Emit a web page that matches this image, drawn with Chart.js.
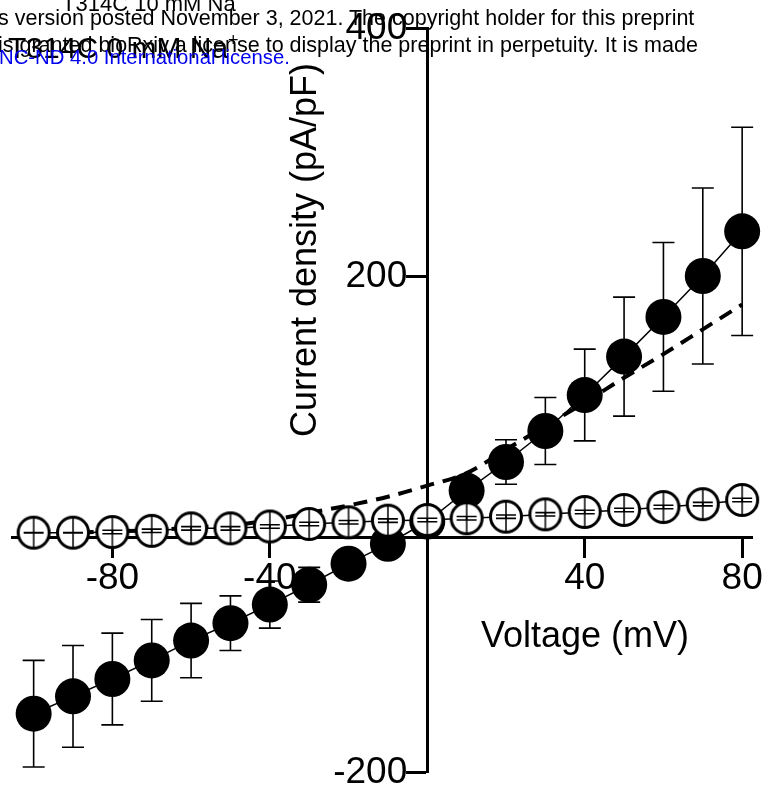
<!DOCTYPE html>
<html>
<head>
<meta charset="utf-8">
<script src="https://cdn.jsdelivr.net/npm/chart.js@4.4.0/dist/chart.umd.min.js"></script>
<style>
  html, body { margin: 0; padding: 0; background: #fff; }
  #wrap { position: relative; width: 779px; height: 798px; overflow: hidden; font-family: Arial, "Liberation Sans", sans-serif; }
  #ivChart { position: absolute; left: 0; top: 0; }
  .hdr { position: absolute; white-space: nowrap; line-height: 1; color: #000; }
</style>
</head>
<body>
<div id="wrap">
  <canvas id="ivChart" width="779" height="798"></canvas>
  <div class="hdr" style="left:62px; top:-7px; font-size:22px;">T314C 10 mM Na</div>
  <div class="hdr" style="left:-2px; top:8px; font-size:21.5px;">s version posted November 3, 2021. The copyright holder for this preprint</div>
  <div class="hdr" style="left:8px; top:31px; font-size:30px;">T314C 0 mM Na<sup style="font-size:18px; vertical-align:12px">+</sup></div>
  <div class="hdr" style="left:-2px; top:35px; font-size:21.5px;">is granted bioRxiv a license to display the preprint in perpetuity. It is made</div>
  <div class="hdr" style="left:-1px; top:47px; font-size:20.3px; color:#0000ee;">NC-ND 4.0 International license.</div>
</div>
<script>
// membrane voltage steps (mV)
const voltages = [-100, -90, -80, -70, -60, -50, -40, -30, -20, -10, 0, 10, 20, 30, 40, 50, 60, 70, 80];

// T314C, 10 mM Na+ (filled circles), mean and SEM (pA/pF)
const filledMean = [-153, -139, -125, -110, -94, -80, -65, -49, -32, -16, 2, 27, 50, 75, 104, 135, 167, 200, 236];
const filledErr = [43, 41, 37, 33, 30, 22, 19, 14, 10, 8, 5, 10, 18, 27, 37, 48, 60, 71, 84];

// T314C, 0 mM Na+ (open circles)
const openMean = [-7, -7, -6.5, -5.5, -3.5, -3.5, -2, 0, 1.4, 2.7, 3.2, 4.6, 5.9, 7.8, 9.7, 11.3, 13.7, 16, 19.4];
const openErr = [0.2, 0.2, 1.4, 1.4, 1.4, 1.4, 1.4, 1.4, 1.4, 1.4, 1.4, 1.4, 1.4, 1.4, 1.4, 1.4, 1.4, 1.4, 1.4];

// dashed curve
const dashedCurve = [-8, -7, -6, -5, -3, -1, 3, 9, 15, 22, 31, 41, 60, 79, 98, 118, 137, 157, 177];

// axis ticks
const xTickValues = [-80, -40, 40, 80];
const yTickValues = [-200, 200, 400];

const FONT = "Arial, 'Liberation Sans', sans-serif";

// open circle symbol with a vertical bar through it
function makeOpenSymbol() {
    const c = document.createElement("canvas");
    c.width = 38;
    c.height = 38;
    const g = c.getContext("2d");
    g.beginPath();
    g.arc(19, 19, 15.5, 0, Math.PI * 2);
    g.fillStyle = "#fff";
    g.fill();
    g.lineWidth = 3;
    g.strokeStyle = "#000";
    g.stroke();
    g.beginPath();
    g.moveTo(19, 4);
    g.lineTo(19, 34);
    g.lineWidth = 1.5;
    g.stroke();
    return c;
}

function toPoints(vals) {
    return voltages.map((v, i) => ({ x: v, y: vals[i] }));
}

// draw SEM bars with caps
function drawErrors(chart, values, errs, capHalf) {
    const ctx = chart.ctx;
    const xs = chart.scales.x, ys = chart.scales.y;
    ctx.save();
    ctx.strokeStyle = "#000";
    ctx.lineWidth = 1.6;
    voltages.forEach((v, i) => {
        const px = xs.getPixelForValue(v);
        const top = ys.getPixelForValue(values[i] + errs[i]);
        const bot = ys.getPixelForValue(values[i] - errs[i]);
        ctx.beginPath();
        ctx.moveTo(px, top);
        ctx.lineTo(px, bot);
        ctx.moveTo(px - capHalf, top);
        ctx.lineTo(px + capHalf, top);
        ctx.moveTo(px - capHalf, bot);
        ctx.lineTo(px + capHalf, bot);
        ctx.stroke();
    });
    ctx.restore();
}

const errorBarPlugin = {
    id: "errorBars",
    beforeDatasetsDraw(chart) {
        drawErrors(chart, filledMean, filledErr, 11);
    },
    afterDatasetsDraw(chart) {
        drawErrors(chart, openMean, openErr, 10);
    }
};

// y tick labels (left of the crossing axis) and axis titles
const axisTextPlugin = {
    id: "axisText",
    afterDraw(chart) {
        const ctx = chart.ctx;
        const xs = chart.scales.x, ys = chart.scales.y;
        const axisX = xs.getPixelForValue(0);
        ctx.save();
        ctx.fillStyle = "#000";
        ctx.font = "37px " + FONT;
        ctx.textAlign = "right";
        ctx.textBaseline = "middle";
        ys.ticks.forEach(t => {
            ctx.fillText(String(t.value), axisX - 20, ys.getPixelForValue(t.value) + 1);
        });

        ctx.font = "36px " + FONT;
        ctx.textAlign = "center";
        ctx.fillText("Voltage (mV)", 585, 637);
        ctx.translate(306, 250);
        ctx.rotate(-Math.PI / 2);
        ctx.fillText("Current density (pA/pF)", 0, 0);
        ctx.restore();
    }
};

// keep the chart area where the layout padding puts it
function noScalePadding(scale) {
    scale.paddingLeft = 0;
    scale.paddingRight = 0;
    scale.paddingTop = 0;
    scale.paddingBottom = 0;
}

const ctx = document.getElementById("ivChart").getContext("2d");

window.chart = new Chart(ctx, {
    type: "line",
    data: {
        datasets: [
            {
                label: "T314C 0 mM Na+",
                data: toPoints(openMean),
                borderColor: "#000",
                borderWidth: 1.5,
                pointStyle: makeOpenSymbol(),
                pointRadius: 17,
                order: 0,
                clip: false
            },
            {
                label: "T314C 10 mM Na+",
                data: toPoints(filledMean),
                borderColor: "#000",
                borderWidth: 1.5,
                pointStyle: "circle",
                pointRadius: 18,
                pointBackgroundColor: "#000",
                pointBorderWidth: 0,
                order: 1,
                clip: false
            },
            {
                label: "dashed",
                data: toPoints(dashedCurve),
                borderColor: "#000",
                borderWidth: 4,
                borderDash: [14, 9],
                pointRadius: 0,
                cubicInterpolationMode: "monotone",
                order: 2,
                clip: false
            }
        ]
    },
    options: {
        responsive: false,
        animation: false,
        devicePixelRatio: 1,
        layout: { autoPadding: false, padding: { left: 12, right: 27, top: 28, bottom: 26 } },
        plugins: { legend: { display: false }, tooltip: { enabled: false }, title: { display: false } },
        scales: {
            x: {
                type: "linear",
                min: -105.5,
                max: 82.5,
                position: { y: -11 },
                border: { color: "#000", width: 3 },
                grid: { drawOnChartArea: false, tickLength: 19, tickWidth: 3, tickColor: "#000" },
                ticks: { color: "#000", font: { family: FONT, size: 37 }, padding: 0, maxRotation: 0, autoSkip: false },
                afterBuildTicks: (s) => { s.ticks = xTickValues.map(v => ({ value: v })); },
                afterFit: noScalePadding
            },
            y: {
                type: "linear",
                min: -200,
                max: 400,
                position: { x: 0 },
                border: { color: "#000", width: 3 },
                grid: { drawOnChartArea: false, tickLength: 20, tickWidth: 3, tickColor: "#000" },
                ticks: { display: false },
                afterBuildTicks: (s) => { s.ticks = yTickValues.map(v => ({ value: v })); },
                afterFit: noScalePadding
            }
        }
    },
    plugins: [errorBarPlugin, axisTextPlugin]
});
</script>
</body>
</html>
